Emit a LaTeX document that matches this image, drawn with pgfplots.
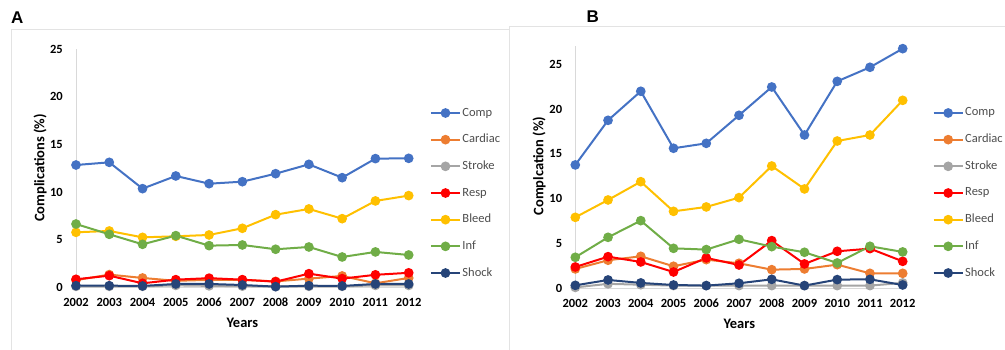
\documentclass[border=0pt]{standalone}
\usepackage{pgfplots}
\pgfplotsset{compat=1.18}
\usepackage{pgfplotstable}
\usepackage{fontspec}
\setmainfont{Carlito}
\newfontfamily\panelfont{Liberation Sans}

\definecolor{ccomp}{HTML}{4472C4}
\definecolor{ccardiac}{HTML}{ED7D31}
\definecolor{cstroke}{HTML}{A5A5A5}
\definecolor{cresp}{HTML}{FF0000}
\definecolor{cbleed}{HTML}{FFC000}
\definecolor{cinf}{HTML}{70AD47}
\definecolor{cshock}{HTML}{264478}
\definecolor{axisgray}{HTML}{D9D9D9}
\definecolor{framegray}{HTML}{E3E3E3}
\definecolor{legendgray}{HTML}{4D4D4D}

% Panel A: complication rates by year
\pgfplotstableread{
year comp  cardiac stroke resp bleed inf  shock
2002 12.83 0.75 0.10 0.84 5.77 6.64 0.17
2003 13.11 1.33 0.10 1.22 5.91 5.56 0.17
2004 10.35 0.98 0.10 0.42 5.24 4.51 0.14
2005 11.68 0.68 0.20 0.80 5.35 5.42 0.35
2006 10.87 0.78 0.15 0.96 5.49 4.37 0.35
2007 11.08 0.78 0.12 0.80 6.19 4.44 0.24
2008 11.92 0.62 0.08 0.59 7.62 3.99 0.07
2009 12.90 0.91 0.10 1.43 8.22 4.23 0.17
2010 11.50 1.19 0.10 0.91 7.20 3.18 0.14
2011 13.50 0.42 0.20 1.31 9.06 3.71 0.35
2012 13.53 0.98 0.20 1.52 9.62 3.39 0.35
}\tableA

% Panel B: complication rates by year
\pgfplotstableread{
year comp  cardiac stroke resp bleed inf  shock
2002 13.77 2.16 0.10 2.38 7.92  3.46 0.33
2003 18.75 3.13 0.50 3.53 9.86  5.69 0.93
2004 21.99 3.57 0.40 2.94 11.90 7.55 0.60
2005 15.63 2.46 0.30 1.82 8.59  4.46 0.37
2006 16.18 3.20 0.30 3.39 9.08  4.32 0.30
2007 19.31 2.79 0.30 2.60 10.12 5.47 0.56
2008 22.47 2.08 0.30 5.32 13.65 4.65 1.00
2009 17.11 2.16 0.30 2.72 11.09 4.02 0.30
2010 23.10 2.64 0.30 4.13 16.44 2.83 0.97
2011 24.67 1.67 0.30 4.43 17.11 4.69 1.00
2012 26.75 1.67 0.60 3.01 20.98 4.06 0.37
}\tableB

\pgfplotsset{
  panel/.style={
    scale only axis,
    xmin=2002, xmax=2012, ymin=0,
    xtick={2002,...,2012}, ytick={0,5,...,25},
    axis x line*=bottom, axis y line*=left,
    axis line style={draw=axisgray, line width=0.8pt},
    major tick length=0pt,
    clip=false,
    /pgf/number format/assume math mode=true,
    /pgf/number format/1000 sep={},
    tick label style={font=\bfseries\fontsize{12.5}{12.5}\selectfont, inner sep=0pt},
    xticklabel style={anchor=base, yshift=-19.7pt},
    yticklabel style={anchor=east, xshift=-13pt},
    every axis plot/.append style={line width=2pt, mark=*, mark size=3.8pt},
    legend cell align=left,
    legend image code/.code={
      \draw[mark repeat=2, mark phase=2, #1]
        plot coordinates {(0pt,0pt) (14.5pt,0pt) (29pt,0pt)};},
    legend style={draw=none, fill=none, inner sep=0pt, outer sep=0pt,
      row sep=16.67pt, column sep=1.5pt, text=legendgray,
      font=\fontsize{12.5}{12.5}\selectfont,
      nodes={inner sep=0pt, text height=8pt, text depth=2pt},
      anchor=north west},
  },
}

\newcommand\drawseries[1]{%
  \addplot[color=ccomp]    table[x=year, y=comp]    {#1};
  \addplot[color=ccardiac] table[x=year, y=cardiac] {#1};
  \addplot[color=cstroke]  table[x=year, y=stroke]  {#1};
  \addplot[color=cresp]    table[x=year, y=resp]    {#1};
  \addplot[color=cbleed]   table[x=year, y=bleed]   {#1};
  \addplot[color=cinf]     table[x=year, y=inf]     {#1};
  \addplot[color=cshock]   table[x=year, y=shock]   {#1};
  \legend{Comp,Cardiac,Stroke,Resp,Bleed,Inf,Shock}%
}

\begin{document}
\begin{tikzpicture}[x=1pt, y=1pt]
\useasboundingbox (0,0) rectangle (1005,350);

% panel frames
\draw[framegray, line width=1pt] (11,0) -- (11,320) -- (509,320);
\draw[framegray, line width=1pt] (509,0) -- (509,323) -- (1005,323);

% panel letters
\node[font=\panelfont\bfseries\fontsize{17}{17}\selectfont, anchor=base] at (17.2,326.5) {A};
\node[font=\panelfont\bfseries\fontsize{17}{17}\selectfont, anchor=base] at (592.8,327.3) {B};

\begin{axis}[panel, at={(76pt,62.7pt)}, anchor=south west,
  width=332.7pt, height=238.3pt, ymax=25,
  legend style={at={(1.064,0.7524)}}]
  \drawseries{\tableA}
\end{axis}

\begin{axis}[panel, at={(575.3pt,61.7pt)}, anchor=south west,
  width=327.4pt, height=241.9pt, ymax=27,
  legend style={at={(1.0916,0.7454)}}]
  \drawseries{\tableB}
\end{axis}

% axis titles
\node[font=\bfseries\fontsize{14.5}{14.5}\selectfont, anchor=base] at (242.4,22) {Years};
\node[font=\bfseries\fontsize{14.5}{14.5}\selectfont, anchor=base] at (739.3,21.5) {Years};
\node[font=\bfseries\fontsize{14.5}{14.5}\selectfont, anchor=base, rotate=90] at (44.3,182) {Complications (\%)};
\node[font=\bfseries\fontsize{14.5}{14.5}\selectfont, anchor=base, rotate=90] at (543.3,184) {Complcation (\%)};
\end{tikzpicture}
\end{document}
